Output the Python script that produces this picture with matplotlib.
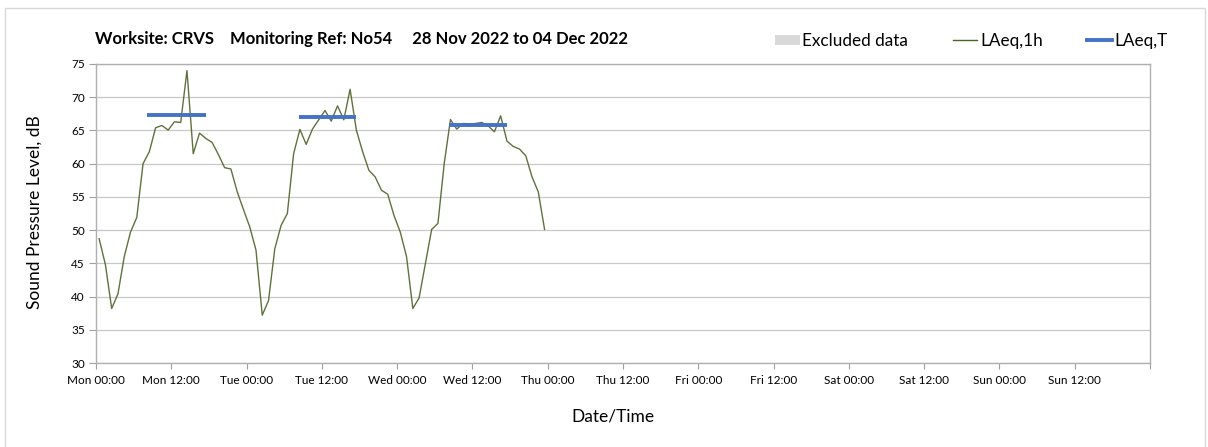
import numpy as np
import pandas as pd
import matplotlib
matplotlib.use('Agg')
from matplotlib import pyplot as plt
import matplotlib.dates as mdates
from matplotlib.patches import Patch, Rectangle
from matplotlib.lines import Line2D

plt.rcParams['font.family'] = ['Lato', 'DejaVu Sans']

START = pd.Timestamp('2022-11-28 00:00')
END = pd.Timestamp('2022-12-05 00:00')

# hourly LAeq,1h values, Mon 00:00 onwards (plotted at mid-hour)
laeq_1h = [
    48.7, 44.8, 38.2, 40.4, 46.0, 49.7, 51.9, 60.0, 61.8, 65.4, 65.75, 65.05,
    66.3, 66.2, 74.0, 61.5, 64.6, 63.8, 63.2, 61.4, 59.4, 59.2, 55.8, 53.1,
    50.5, 47.0, 37.2, 39.4, 47.2, 50.7, 52.5, 61.5, 65.15, 62.9, 65.2, 66.6,
    68.0, 66.4, 68.7, 66.6, 71.2, 65.05, 61.8, 59.0, 58.0, 56.0, 55.4, 52.2,
    49.7, 46.0, 38.2, 39.8, 44.95, 50.1, 51.0, 60.0, 66.65, 65.2, 66.05, 65.95,
    66.05, 66.2, 65.7, 64.8, 67.2, 63.4, 62.6, 62.2, 61.2, 58.0, 55.75, 50.1,
]

# daytime LAeq,T periods: start, end, level
laeq_t_start = ['2022-11-28 08:12', '2022-11-29 08:18', '2022-11-30 08:18']
laeq_t_end = ['2022-11-28 17:36', '2022-11-29 17:30', '2022-11-30 17:30']
laeq_t_level = [67.25, 67.05, 65.8]

title = 'Worksite: CRVS    Monitoring Ref: No54     28 Nov 2022 to 04 Dec 2022'

times = pd.date_range(START + pd.Timedelta(minutes=30), periods=len(laeq_1h), freq='1h')

fig = plt.figure(figsize=(12.08, 4.47), dpi=100)
fig.patches.append(Rectangle((5 / 1208, -0.1), 1200 / 1208, 1.1 - 8 / 447, transform=fig.transFigure,
                             fill=False, edgecolor='#d9d9d9', linewidth=1.0))
ax = fig.add_axes([96 / 1208, 84 / 447, 1054 / 1208, 299 / 447])

line_col = '#4f6228'
blue = '#4472c4'

ax.plot(times, laeq_1h, color=line_col, linewidth=1.0, alpha=0.9, zorder=3)
for s, e, lv in zip(laeq_t_start, laeq_t_end, laeq_t_level):
    ax.plot([pd.Timestamp(s), pd.Timestamp(e)], [lv, lv], color=blue, linewidth=2.8,
            solid_capstyle='butt', zorder=4)


def fmt_tick(x, pos=None):
    d = mdates.num2date(x).replace(tzinfo=None)
    if d >= END:
        return ''
    return d.strftime('%a %H:%M')


ax.set_xlim(START, END)
ax.set_ylim(30, 75)
ax.set_yticks(np.arange(30, 76, 5))
ax.xaxis.set_major_locator(mdates.HourLocator(byhour=[0, 12]))
ax.xaxis.set_major_formatter(plt.FuncFormatter(fmt_tick))
ax.xaxis.set_minor_locator(mdates.DayLocator())
ax.grid(axis='y', color='#c8c8c8', linewidth=0.9)
ax.grid(axis='x', which='minor', color='#dedede', linewidth=0.9)
ax.set_axisbelow(True)
ax.tick_params(axis='x', which='major', length=4, color='#a0a0a0', labelsize=8.5, pad=5)
ax.tick_params(axis='x', which='minor', length=0)
ax.tick_params(axis='y', length=5, color='#a0a0a0', labelsize=8.5, pad=3)
for sp in ax.spines.values():
    sp.set_color('#b0b0b0')
    sp.set_linewidth(1.0)

fig.text(35 / 1208, 1 - 212 / 447, 'Sound Pressure Level, dB', fontsize=12.5, rotation=90,
         ha='center', va='center')
fig.text(613 / 1208, 1 - 416 / 447, 'Date/Time', fontsize=12.5, ha='center', va='center')
fig.text(95 / 1208, 1 - 39 / 447, title, fontsize=12, fontweight='bold', va='center', ha='left')

handles = [
    Patch(facecolor='#d9d9d9', edgecolor='none'),
    Line2D([], [], color=line_col, linewidth=1.0),
    Line2D([], [], color=blue, linewidth=2.8),
]
fig.legend(handles, ['Excluded data', 'LAeq,1h', 'LAeq,T'], loc='center right', ncol=3,
           bbox_to_anchor=(1183 / 1208, 1 - 41 / 447), frameon=False, fontsize=12.3,
           handlelength=1.45, handletextpad=0.15, columnspacing=2.6, handleheight=0.6)

fig.savefig('out.png', dpi=100)
